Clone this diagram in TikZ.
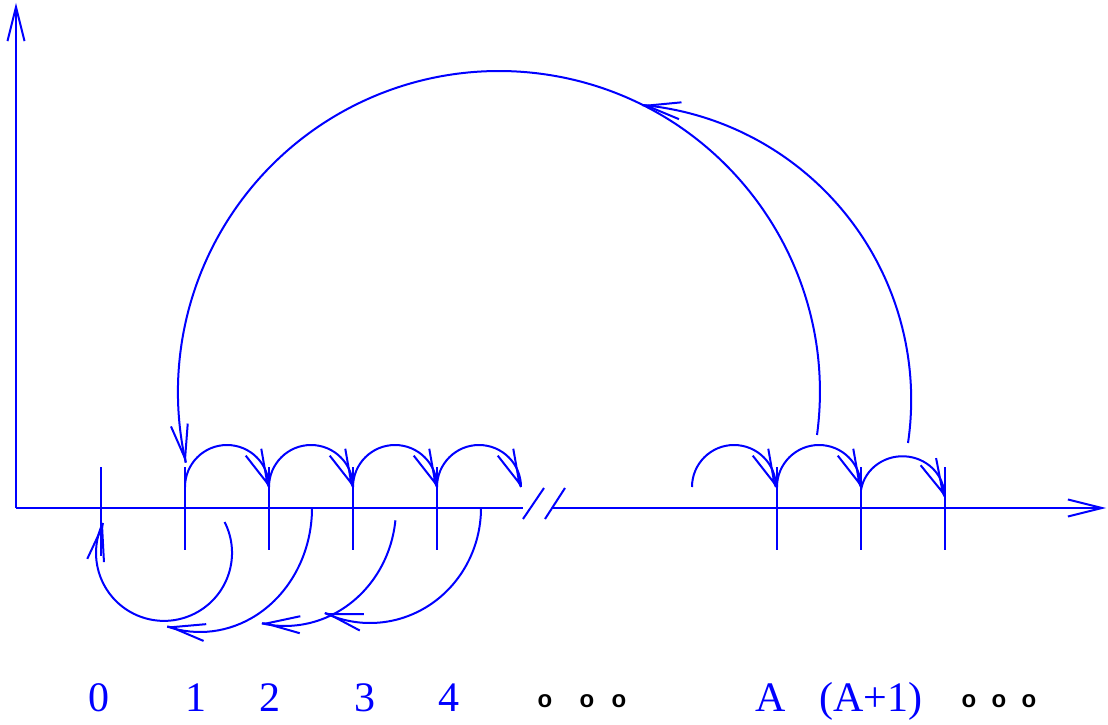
\documentclass[tikz,border=0pt]{standalone}
\usepackage{fontspec}
\setmainfont{Liberation Serif}
\newfontfamily\dotfont{Liberation Sans}
\usetikzlibrary{arrows.meta}

\begin{document}
\begin{tikzpicture}[x=1pt,y=1pt,line width=2pt,blue,
    >={Straight Barb[length=34pt,width=17pt]},
    lbl/.style={anchor=base,text=blue,font=\fontsize{42}{48}\selectfont},
    dots/.style={anchor=base,text=black,font=\dotfont\bfseries\fontsize{24}{28}\selectfont}]
  \useasboundingbox (0,0) rectangle (1108,724);
  \coordinate (o) at (16,216);
  \draw[->] (o) -- (16,721);
  \draw (o) -- (523,216);
  \draw[->] (553,216) -- (1106,216);
  \draw (523,205) -- (544,236);
  \draw (545,205) -- (565,236);
  \draw (101,257) coordinate (t0) -- (101,168);
  \foreach \n/\x in {1/185,2/269,3/353,4/437,a/777,b/861,c/945}
    \draw (\x,257) coordinate (t\n) -- (\x,174);
  \coordinate (s) at (692,257);
  \foreach \p in {t1,t2,t3,t4,s,ta}
    \draw ([yshift=-20pt]\p) arc[start angle=180,end angle=0,radius=42pt] coordinate (e\p);
  \draw ([yshift=-23pt]tb) arc[start angle=171,end angle=0,x radius=42pt,y radius=40pt] coordinate (etb);
  \coordinate (u1) at (817,289);
  \coordinate (u2) at (908,281);
  \draw (u1) arc[start angle=-7.7,end angle=192.7,radius=321pt] coordinate (eu1);
  \draw (u2) arc[start angle=-8.4,end angle=84.7,radius=296pt] coordinate (eu2);
  \coordinate (c1) at (224.6,202);
  \coordinate (c2) at (312,216);
  \coordinate (c3) at (395.4,203.7);
  \coordinate (c4) at (481,216);
  \draw (c1) arc[start angle=27,end angle=-206,radius=68pt] coordinate (ec1);
  \draw (c2) arc[start angle=0,end angle=-107,x radius=112pt,y radius=124pt] coordinate (ec2);
  \draw (c3) arc[start angle=-6,end angle=-102,x radius=111pt,y radius=118pt] coordinate (ec3);
  \draw (c4) arc[start angle=0,end angle=-114,x radius=111pt,y radius=115pt] coordinate (ec4);
  \foreach \e/\a in {et1/-66,et2/-66,et3/-66,et4/-66,es/-66,eta/-66,etb/-65,
                     eu1/279.7,eu2/171.4,ec1/79,ec2/171,ec3/178,ec4/166}
    \draw[->] (\e) ++(\a:-0.05) -- (\e);
  \foreach \n/\x/\t in {0/99/0,1/196/1,2/270/2,3/365/3,4/449/4,a/771/A,b/871/(A+1)}
    \node[lbl] (l\n) at (\x,13) {\t};
  \foreach \n/\x in {1/545,2/587,3/619,4/969,5/999,6/1029}
    \node[dots] (d\n) at (\x,17) {o};
\end{tikzpicture}
\end{document}
